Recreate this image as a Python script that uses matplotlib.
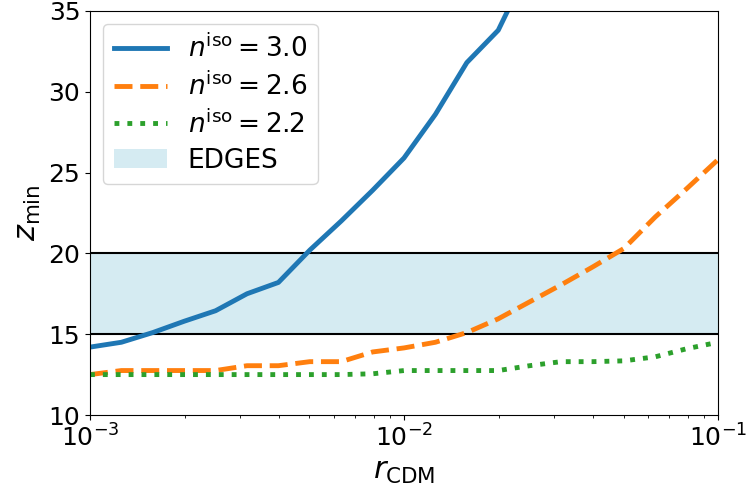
import numpy as np
import matplotlib
matplotlib.use("Agg")
import matplotlib.pyplot as plt

# x grid: 10^-3 ... 10^-1 in steps of 0.1 decade
log_r = [-3.0, -2.9, -2.8, -2.7, -2.6, -2.5, -2.4, -2.3, -2.2, -2.1, -2.0,
         -1.9, -1.8, -1.7, -1.6, -1.5, -1.4, -1.3, -1.2, -1.1, -1.0]
r_cdm = [10 ** v for v in log_r]

z_n30 = [14.2, 14.5, 15.1, 15.8, 16.45, 17.5, 18.2, 20.2, 22.0, 23.9, 25.9,
         28.6, 31.8, 33.8, 37.8]
z_n26 = [12.5, 12.75, 12.75, 12.75, 12.75, 13.05, 13.05, 13.3, 13.3, 13.9, 14.15,
         14.5, 15.1, 15.95, 17.0, 18.05, 19.15, 20.3, 22.25, 24.0, 25.8]
z_n22 = [12.5, 12.5, 12.5, 12.5, 12.5, 12.5, 12.5, 12.5, 12.5, 12.55, 12.75,
         12.75, 12.75, 12.75, 13.05, 13.3, 13.3, 13.35, 13.6, 14.1, 14.5]

edges_lo, edges_hi = 15, 20
labels = [r"$n^{\rm iso}=3.0$", r"$n^{\rm iso}=2.6$", r"$n^{\rm iso}=2.2$", "EDGES"]

fig = plt.figure(figsize=(7.48, 4.95), dpi=100)
ax = fig.add_axes([0.1203, 0.1616, 0.8397, 0.8165])

band = ax.axhspan(edges_lo, edges_hi, color="lightblue", alpha=0.5, lw=0, label=labels[3])
ax.axhline(edges_lo, color="black", lw=1.5)
ax.axhline(edges_hi, color="black", lw=1.5)

l1, = ax.plot(r_cdm[:len(z_n30)], z_n30, color="#1f77b4", lw=3.5, ls="-", label=labels[0])
l2, = ax.plot(r_cdm, z_n26, color="#ff7f0e", lw=3.5, ls="--", label=labels[1])
l3, = ax.plot(r_cdm, z_n22, color="#2ca02c", lw=3.5, ls=":", label=labels[2])

ax.set_xscale("log")
ax.set_xlim(1e-3, 1e-1)
ax.set_ylim(10, 35)
ax.set_yticks([10, 15, 20, 25, 30, 35])
ax.tick_params(labelsize=18)
ax.set_xlabel(r"$r_{\rm CDM}$", fontsize=22)
ax.set_ylabel(r"$z_{\rm min}$", fontsize=22)

ax.legend(handles=[l1, l2, l3, band], loc="upper left", fontsize=19,
          labelspacing=0.35)

fig.savefig("out.png", dpi=100)
